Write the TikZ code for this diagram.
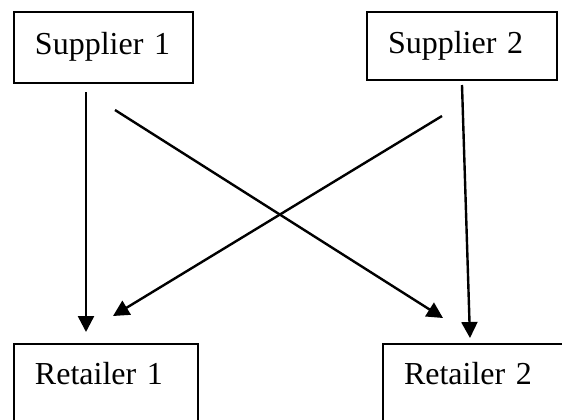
\documentclass[tikz,border=0pt]{standalone}
\usepackage{fontspec}
\setmainfont{Liberation Serif}
\usetikzlibrary{arrows.meta,calc}
\newcommand{\pxu}{.75pt}

\begin{document}
\begin{tikzpicture}[x=.75pt,y=-.75pt,>={Triangle[length=12pt,width=12pt]},
  firm/.style={draw,line width=1.5pt,anchor=north west,align=left,inner xsep=21*\pxu,inner ysep=0pt,font=\fontsize{24}{28}\selectfont},
  link/.style={->,line width=1.8pt}]
\useasboundingbox (0,0) rectangle (562,419);
\clip (0,0) rectangle (562,419);
% suppliers
\node[firm,text width=137*\pxu,text height=42*\pxu,text depth=29*\pxu] (s1) at (13,11) {Supplier 1};
\node[firm,text width=148*\pxu,text height=41*\pxu,text depth=27*\pxu] (s2) at (366,11) {Supplier 2};
% retailers
\node[firm,text width=142*\pxu,text height=40*\pxu,text depth=70*\pxu] (r1) at (13,343) {Retailer 1};
\node[firm,text width=170*\pxu,text height=40*\pxu,text depth=70*\pxu] (r2) at (382,343) {Retailer 2};
% flows
\draw[link] ($(s1.south west)+(73,8)$) -- ($(r1.north west)+(73,-11)$);
\draw[link] ($(s1.south west)+(102,26)$) -- ($(r2.north west)+(61,-25)$);
\draw[link] ($(s2.south west)+(76,35)$) -- ($(r1.north west)+(100,-27)$);
\draw[link] ($(s2.south west)+(96,4)$) -- ($(r2.north west)+(88,-5)$);
\end{tikzpicture}
\end{document}
